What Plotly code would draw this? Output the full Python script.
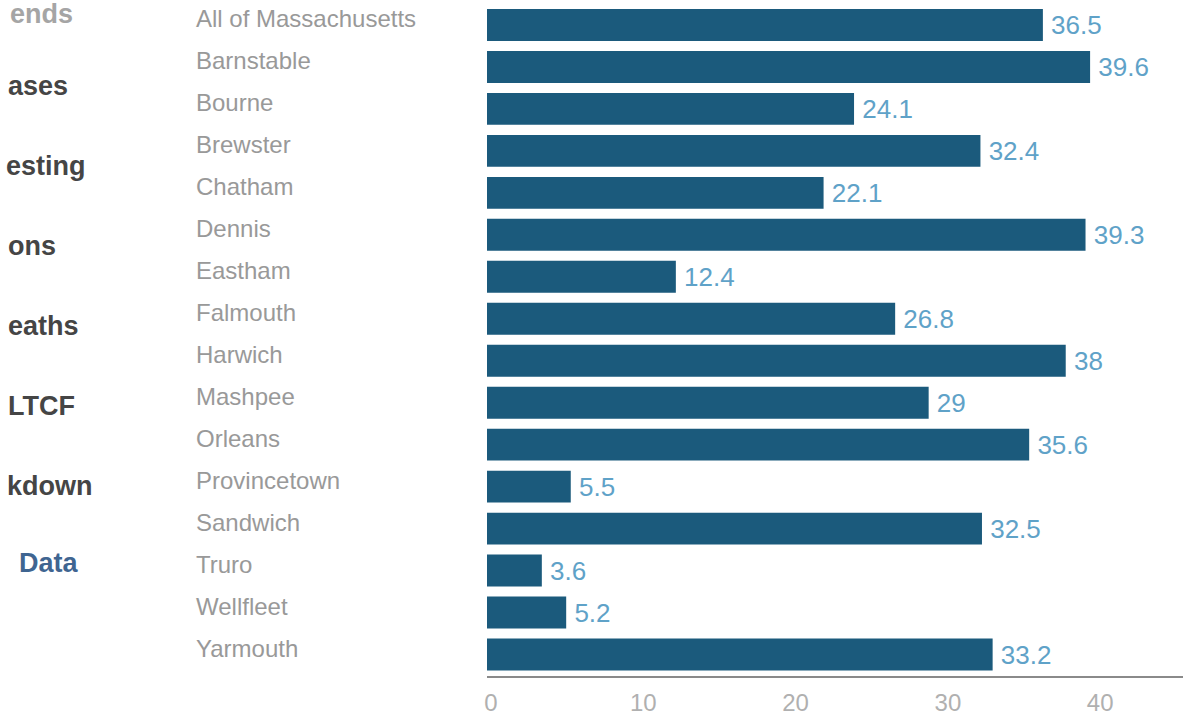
import plotly.graph_objects as go

towns = ["All of Massachusetts", "Barnstable", "Bourne", "Brewster", "Chatham", "Dennis",
         "Eastham", "Falmouth", "Harwich", "Mashpee", "Orleans", "Provincetown",
         "Sandwich", "Truro", "Wellfleet", "Yarmouth"]
values = [36.5, 39.6, 24.1, 32.4, 22.1, 39.3, 12.4, 26.8, 38, 29, 35.6, 5.5, 32.5, 3.6, 5.2, 33.2]
x_ticks = [0, 10, 20, 30, 40]
nav_items = ["ends", "ases", "esting", "ons", "eaths", "LTCF", "kdown", "Data"]

W, H = 1183, 719
ML, MR, MT, MB = 487, 0, 4, 43
plot_w = W - ML - MR
plot_h = H - MT - MB
FONT = "Liberation Sans, Arial, sans-serif"

fig = go.Figure()
fig.add_trace(go.Bar(
    x=values, y=towns, orientation="h",
    marker=dict(color="#1b5a7c", line=dict(width=0)),
    text=values, texttemplate="\u2009%{x}", textposition="outside",
    outsidetextfont=dict(family=FONT, size=26, color="#5fa2c8"),
    cliponaxis=False, hoverinfo="skip",
))

annotations = []
for t in towns:
    annotations.append(dict(
        x=(194 - ML) / plot_w, xref="paper", xanchor="left",
        y=t, yref="y", yanchor="middle", yshift=6,
        text=t, showarrow=False,
        font=dict(family=FONT, size=24, color="#999999"),
    ))

nav_x = [8, 6, 4, 6, 6, 6, 5, 17]
nav_y = [14, 86, 166, 246, 326, 406, 486, 563]
for name, nx, ny in zip(nav_items, nav_x, nav_y):
    annotations.append(dict(
        x=(nx - ML) / plot_w, xref="paper", xanchor="left",
        y=1 - (ny - MT) / plot_h, yref="paper", yanchor="middle",
        text="<b>%s</b>" % name, showarrow=False,
        font=dict(family=FONT, size=27,
                  color="#3f6591" if name == "Data" else ("#a5a5a5" if name == "ends" else "#454545")),
    ))

fig.update_layout(
    width=W, height=H,
    margin=dict(l=ML, r=MR, t=MT, b=MB),
    paper_bgcolor="white", plot_bgcolor="white",
    bargap=0.24, showlegend=False,
    annotations=annotations,
    xaxis=dict(range=[0, 45.7], tickvals=x_ticks, showgrid=False, zeroline=False,
               showline=True, linecolor="#8a8a8a", linewidth=2, ticks="",
               ticklabelshift=4, ticklabelstandoff=4,
               tickfont=dict(family=FONT, size=24, color="#b0b0b0"),
               fixedrange=True),
    yaxis=dict(categoryorder="array", categoryarray=towns, autorange="reversed",
               showticklabels=False, showgrid=False, zeroline=False, showline=False,
               fixedrange=True),
)

fig.write_html("out.html", config={"displayModeBar": False})
